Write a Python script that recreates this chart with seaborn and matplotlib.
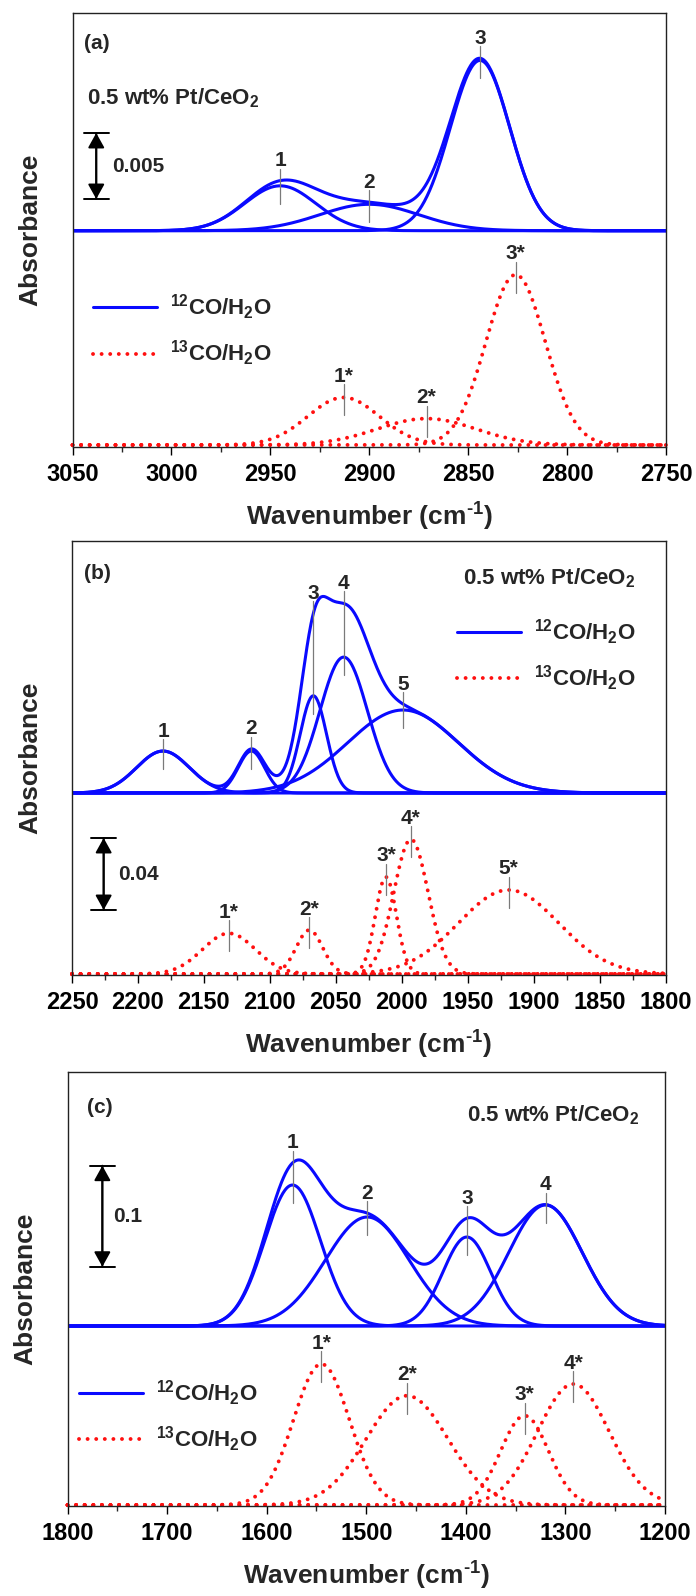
import numpy as np
import matplotlib
matplotlib.use("Agg")
import matplotlib.pyplot as plt
import seaborn as sns
from matplotlib.lines import Line2D
from matplotlib.ticker import MultipleLocator

sns.set_theme(style="ticks")
plt.rcParams["font.family"] = ["Liberation Sans", "DejaVu Sans"]
plt.rcParams["font.weight"] = "bold"
plt.rcParams["mathtext.fontset"] = "custom"
plt.rcParams["mathtext.rm"] = "Liberation Sans:bold"
plt.rcParams["mathtext.bf"] = "Liberation Sans:bold"
plt.rcParams["mathtext.it"] = "Liberation Sans:bold:italic"
plt.rcParams["mathtext.default"] = "rm"

# ---------------- text ----------------
SAMPLE = "0.5 wt% Pt/CeO$_2$"
LEGEND_12 = "$^{12}$CO/H$_2$O"
LEGEND_13 = "$^{13}$CO/H$_2$O"
XLABEL = "Wavenumber (cm$^{\\text{-1}}$)"
YLABEL = "Absorbance"

# ---------------- (a) formate C-H region ----------------
a_labels = ["1", "2", "3"]
a_center_12 = [2945, 2900, 2844]
a_height_12 = [0.0034, 0.0020, 0.0129]
a_sigma_12 = [18, 25, 15]
a_center_13 = [2913, 2871, 2826]
a_height_13 = [0.0036, 0.0020, 0.0129]
a_sigma_13 = [18, 25, 15]
a_ticks = [3050, 3000, 2950, 2900, 2850, 2800, 2750]
a_scale = 0.005

# ---------------- (b) carbonyl region ----------------
b_labels = ["1", "2", "3", "4", "5"]
b_center_12 = [2181, 2114, 2067, 2044, 1999]
b_height_12 = [0.0233, 0.0233, 0.0540, 0.0755, 0.0461]
b_sigma_12 = [20, 10, 10, 18, 42]
b_center_13 = [2131, 2070, 2012, 1993, 1919]
b_height_13 = [0.0226, 0.0244, 0.0539, 0.0748, 0.0467]
b_sigma_13 = [20, 10, 8, 13, 38]
b_ticks = [2250, 2200, 2150, 2100, 2050, 2000, 1950, 1900, 1850, 1800]
b_scale = 0.04

# ---------------- (c) carbonate / carboxylate region ----------------
c_labels = ["1", "2", "3", "4"]
c_center_12 = [1574, 1499, 1399, 1320]
c_height_12 = [0.1396, 0.1079, 0.0881, 0.1198]
c_sigma_12 = [28, 42, 24, 37]
c_center_13 = [1545, 1459, 1341, 1292]
c_height_13 = [0.1396, 0.1082, 0.0884, 0.1198]
c_sigma_13 = [28, 41, 24, 36]
c_ticks = [1800, 1700, 1600, 1500, 1400, 1300, 1200]
c_scale = 0.1

BLUE = "#0a0aff"
RED = "#ff1010"
GREY = "#7a7a7a"
W, H = 696, 1596

# layout of each panel (pixels) and its vertical scaling
PANELS = [
    dict(tag="(a)", box=(72.5, 12.5, 666, 446.5), minor=25,
         centers=(a_center_12, a_center_13), heights=(a_height_12, a_height_13),
         sigmas=(a_sigma_12, a_sigma_13), labels=a_labels, ticks=a_ticks,
         scale=a_scale, scale_px=66, red_px=1.5, blue_px=215.8,
         bar_x=3038, bar_px=247.5, bar_lbl_x=3030,
         tag_xy=(0.020, 0.916), sample_xy=(0.024, 0.788, "left"),
         legend_xy=(0.0345, 0.267)),
    dict(tag="(b)", box=(72, 541, 665.5, 975), minor=25,
         centers=(b_center_12, b_center_13), heights=(b_height_12, b_height_13),
         sigmas=(b_sigma_12, b_sigma_13), labels=b_labels, ticks=b_ticks,
         scale=b_scale, scale_px=72, red_px=1.0, blue_px=182,
         bar_x=2226, bar_px=65, bar_lbl_x=2215,
         tag_xy=(0.021, 0.912), sample_xy=(0.9486, 0.899, "right"),
         legend_xy=(0.6487, 0.737)),
    dict(tag="(c)", box=(67.5, 1072, 665, 1506), minor=50,
         centers=(c_center_12, c_center_13), heights=(c_height_12, c_height_13),
         sigmas=(c_sigma_12, c_sigma_13), labels=c_labels, ticks=c_ticks,
         scale=c_scale, scale_px=101, red_px=1.0, blue_px=180,
         bar_x=1765, bar_px=239.3, bar_lbl_x=1754,
         tag_xy=(0.0326, 0.9055), sample_xy=(0.9565, 0.887, "right"),
         legend_xy=(0.0192, 0.2074)),
]


def gauss(x, c, h, s):
    return h * np.exp(-0.5 * ((x - c) / s) ** 2)


fig = plt.figure(figsize=(W / 100, H / 100), dpi=100)

for p in PANELS:
    x0, y0, x1, y1 = p["box"]
    ax = fig.add_axes([x0 / W, 1 - y1 / H, (x1 - x0) / W, (y1 - y0) / H])
    ax_h = y1 - y0
    upp = p["scale"] / p["scale_px"]          # absorbance per pixel
    ymin = -p["red_px"] * upp
    ymax = (ax_h - p["red_px"]) * upp
    off = (p["blue_px"] - p["red_px"]) * upp   # vertical offset of 12CO trace

    ticks = p["ticks"]
    xs = np.linspace(ticks[0], ticks[-1], 900)
    c12, c13 = p["centers"]
    h12, h13 = p["heights"]
    s12, s13 = p["sigmas"]

    # 12CO components and envelope (solid blue)
    comps = [gauss(xs, c, h, s) for c, h, s in zip(c12, h12, s12)]
    for comp in comps:
        sns.lineplot(x=xs, y=off + comp, ax=ax, color=BLUE, lw=2.2,
                     sort=False, estimator=None)
    sns.lineplot(x=xs, y=off + np.sum(comps, axis=0), ax=ax, color=BLUE,
                 lw=2.2, sort=False, estimator=None)

    # 13CO components (red dotted)
    for c, h, s in zip(c13, h13, s13):
        sns.lineplot(x=xs, y=gauss(xs, c, h, s), ax=ax, color=RED, lw=2.8,
                     linestyle=(0, (0.01, 2.2)), dash_capstyle="round",
                     sort=False, estimator=None, clip_on=False)

    # peak markers and numbers
    for lab, c, h, s in zip(p["labels"], c12, h12, s12):
        env = sum(gauss(c, cc, hh, ss) for cc, hh, ss in zip(c12, h12, s12))
        top = off + env + 12 * upp
        bot = off + h - 18 * upp
        ax.plot([c, c], [bot, top], color=GREY, lw=0.9)
        ax.text(c, top + 2.5 * upp, lab, ha="center", va="baseline",
                fontsize=15, fontweight="bold")
    for lab, c, h in zip(p["labels"], c13, h13):
        top = h + 13 * upp
        bot = h - 18 * upp
        ax.plot([c, c], [bot, top], color=GREY, lw=0.9)
        ax.text(c, top + 2.5 * upp, lab + "*", ha="center", va="baseline",
                fontsize=15, fontweight="bold")

    # absorbance scale bar
    yb = (p["bar_px"] - p["red_px"]) * upp
    yt = yb + p["scale"]
    ax.annotate("", xy=(p["bar_x"], yt), xytext=(p["bar_x"], yb),
                arrowprops=dict(arrowstyle="<|-|>,head_length=0.45,head_width=0.25",
                                color="black", lw=1.4, mutation_scale=20,
                                shrinkA=0, shrinkB=0))
    ax.annotate("", xy=(p["bar_x"], yt), xytext=(p["bar_x"], yb),
                arrowprops=dict(arrowstyle="|-|,widthA=0.45,widthB=0.45",
                                color="black", lw=1.4, mutation_scale=20,
                                shrinkA=0, shrinkB=0))
    ax.text(p["bar_lbl_x"], (yb + yt) / 2, f"{p['scale']:g}", ha="left",
            va="center", fontsize=15, fontweight="bold")

    # annotations
    ax.text(p["tag_xy"][0], p["tag_xy"][1], p["tag"], transform=ax.transAxes,
            ha="left", va="baseline", fontsize=15, fontweight="bold")
    sx, sy, sha = p["sample_xy"]
    ax.text(sx, sy, SAMPLE, transform=ax.transAxes, ha=sha, va="baseline",
            fontsize=16, fontweight="bold")

    handles = [Line2D([], [], color=BLUE, lw=2.2),
               Line2D([], [], color=RED, lw=2.8, linestyle=(0, (0.01, 2.2)),
                      dash_capstyle="round")]
    ax.legend(handles, [LEGEND_12, LEGEND_13], loc="center left",
              bbox_to_anchor=p["legend_xy"], frameon=False, fontsize=16,
              handlelength=2.9, handletextpad=0.55, labelspacing=0.75,
              borderpad=0, borderaxespad=0)

    # axes styling
    ax.set_xlim(ticks[0], ticks[-1])
    ax.set_ylim(ymin, ymax)
    ax.set_xticks(ticks)
    ax.xaxis.set_minor_locator(MultipleLocator(p["minor"]))
    ax.set_yticks([])
    ax.tick_params(axis="x", which="major", direction="out", length=5.8,
                   width=1.0, pad=6.0, labelsize=17, colors="black")
    ax.tick_params(axis="x", which="minor", direction="out", length=3.6,
                   width=1.0)
    for lbl in ax.get_xticklabels():
        lbl.set_fontweight("bold")
    for sp in ax.spines.values():
        sp.set_visible(True)
        sp.set_linewidth(1.0)
        sp.set_color("#222222")
    ax.set_xlabel(XLABEL, fontsize=19, fontweight="bold")
    ax.xaxis.set_label_coords(0.5, -54 / ax_h)
    ax.set_ylabel(YLABEL, fontsize=19, fontweight="bold")
    ax.yaxis.set_label_coords(-30 / (x1 - x0), 0.5)
    ax.set_facecolor("white")

fig.savefig("out.png", dpi=100, facecolor="white")
